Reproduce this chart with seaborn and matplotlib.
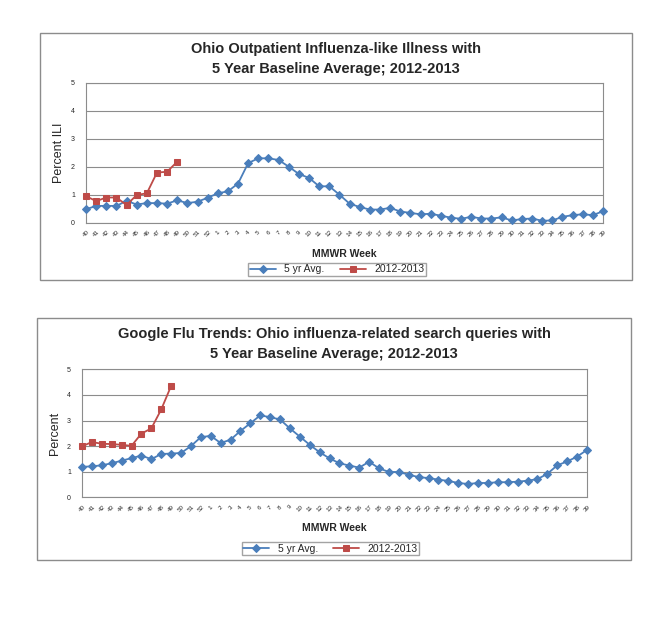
import numpy as np
import pandas as pd
import seaborn as sns
import matplotlib.pyplot as plt
from matplotlib.patches import Rectangle

# MMWR weeks 40..52, 1..39
weeks = [str(w) for w in list(range(40, 53)) + list(range(1, 40))]

ili_avg = [0.48, 0.60, 0.60, 0.60, 0.78, 0.65, 0.70, 0.70, 0.68, 0.80, 0.70, 0.75, 0.89,
           1.05, 1.12, 1.40, 2.13, 2.30, 2.30, 2.24, 2.00, 1.74, 1.60, 1.30, 1.30, 1.00,
           0.68, 0.56, 0.47, 0.47, 0.53, 0.40, 0.35, 0.30, 0.32, 0.25, 0.18, 0.14, 0.21,
           0.15, 0.15, 0.19, 0.08, 0.13, 0.15, 0.07, 0.08, 0.21, 0.27, 0.30, 0.27, 0.41]
ili_cur = [0.95, 0.77, 0.90, 0.90, 0.63, 0.99, 1.05, 1.79, 1.82, 2.18]

gft_avg = [1.19, 1.21, 1.25, 1.33, 1.43, 1.53, 1.63, 1.49, 1.69, 1.71, 1.73, 2.00, 2.35,
           2.40, 2.12, 2.25, 2.59, 2.89, 3.20, 3.13, 3.04, 2.69, 2.37, 2.05, 1.76, 1.52,
           1.33, 1.24, 1.16, 1.39, 1.13, 0.99, 0.99, 0.88, 0.79, 0.75, 0.69, 0.64, 0.56,
           0.52, 0.56, 0.56, 0.59, 0.59, 0.61, 0.65, 0.71, 0.92, 1.25, 1.40, 1.59, 1.85]
gft_cur = [1.99, 2.16, 2.09, 2.08, 2.05, 2.01, 2.49, 2.69, 3.43, 4.35]

BLUE = "#4a7ebb"
RED = "#be4b48"

sns.set_style("white")
plt.rcParams["font.family"] = ["Liberation Sans", "DejaVu Sans"]

fig = plt.figure(figsize=(6.56, 6.30), dpi=100)
W, H = 656, 630


def fx(x):
    return x / W


def fy(y):
    return 1 - y / H


def panel(box, ax_rect, title, ylabel, avg, cur, title_y, xlabel_y, leg_box):
    x0, y0, x1, y1 = box
    fig.patches.append(Rectangle((fx(x0), fy(y1)), fx(x1 - x0), (y1 - y0) / H,
                                 transform=fig.transFigure, fill=False,
                                 edgecolor="#8c8c8c", linewidth=1.0))
    l, r, top, bot = ax_rect
    ax = fig.add_axes([fx(l), fy(bot), fx(r - l), (bot - top) / H])
    df = pd.DataFrame({"week": range(len(weeks)), "avg": avg})
    dc = pd.DataFrame({"week": range(len(cur)), "cur": cur})
    sns.lineplot(data=df, x="week", y="avg", ax=ax, color=BLUE, marker="D",
                 markersize=4, markeredgecolor=BLUE, linewidth=1.3,
                 label="5 yr Avg.", clip_on=False, zorder=3)
    sns.lineplot(data=dc, x="week", y="cur", ax=ax, color=RED, marker="s",
                 markersize=4, markeredgecolor=RED, linewidth=1.3,
                 label="2012-2013", clip_on=False, zorder=3)
    ax.set_xlim(0, len(weeks) - 1)
    ax.set_ylim(0, 5)
    ax.set_yticks(range(6))
    ax.tick_params(axis="y", labelsize=5, length=0, pad=8)
    ax.set_xticks(range(len(weeks)))
    ax.set_xticklabels(weeks, rotation=45, fontsize=4.5)
    ax.tick_params(axis="x", length=3, color="#8c8c8c", pad=2)
    ax.grid(axis="y", color="#8c8c8c", linewidth=0.8)
    for s in ax.spines.values():
        s.set_color("#8c8c8c")
    ax.set_xlabel("")
    ax.set_ylabel(ylabel, fontsize=9)
    ax.legend_.remove()
    h, lab = ax.get_legend_handles_labels()
    lx0, ly0, lx1, ly1 = leg_box
    fig.legend(h, lab, loc="center", ncol=2, fontsize=7.5, frameon=True,
               fancybox=False, edgecolor="#8c8c8c", borderpad=0.15,
               handlelength=2.5, columnspacing=1.5,
               bbox_to_anchor=(fx((lx0 + lx1) / 2), fy((ly0 + ly1) / 2)))
    fig.text(fx((x0 + x1) / 2), fy(title_y), title, ha="center", va="center",
             fontsize=10.5, fontweight="bold", linespacing=1.5)
    fig.text(fx((l + r) / 2), fy(xlabel_y), "MMWR Week", ha="center",
             va="center", fontsize=7.5, fontweight="bold")
    return ax


panel((40, 33, 632, 280), (86, 603, 82.7, 222.7),
      "Ohio Outpatient Influenza-like Illness with\n5 Year Baseline Average; 2012-2013",
      "Percent ILI", ili_avg, ili_cur, 59, 254, (232, 262, 442, 277))
panel((37, 318, 631, 560), (82, 587, 369.3, 497.3),
      "Google Flu Trends: Ohio influenza-related search queries with\n5 Year Baseline Average; 2012-2013",
      "Percent", gft_avg, gft_cur, 344, 528, (228, 541, 433, 556))

fig.savefig("out.png", dpi=100)
